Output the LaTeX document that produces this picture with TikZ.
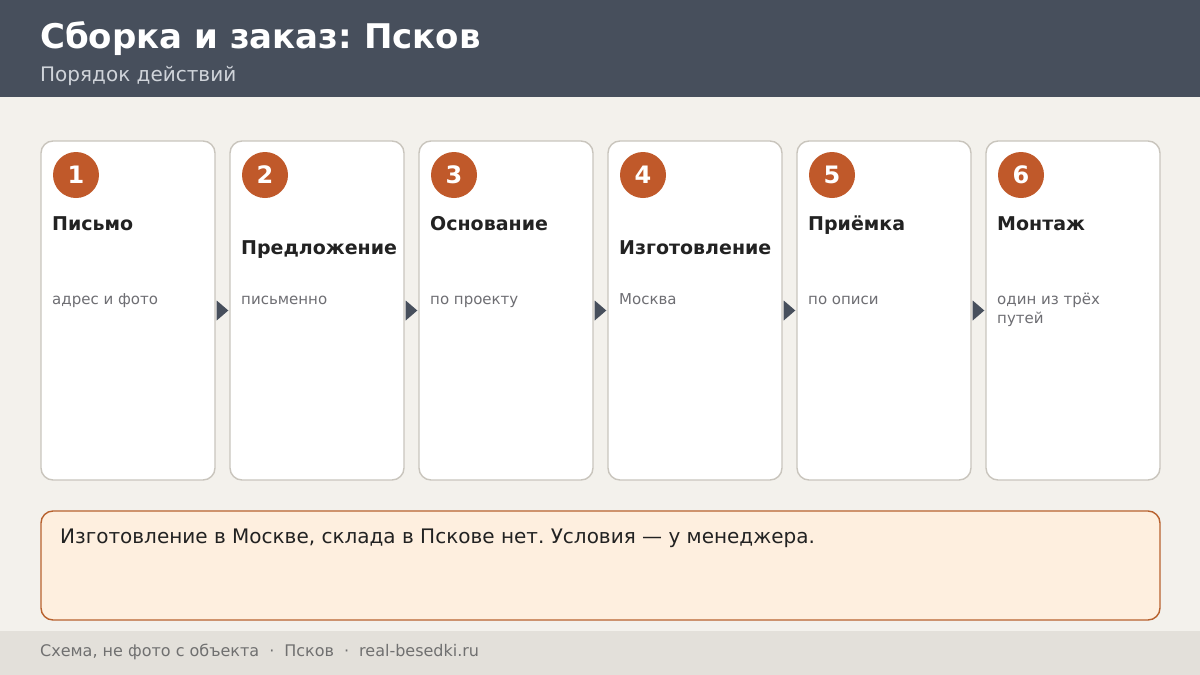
\documentclass[tikz,border=0pt]{standalone}
\usepackage{fontspec}
\setmainfont{DejaVu Sans}
\usetikzlibrary{shapes, arrows}
\frenchspacing

\definecolor{headbg}{HTML}{474F5C}
\definecolor{pagebg}{HTML}{F3F1EC}
\definecolor{footbg}{HTML}{E3E0DA}
\definecolor{cardline}{HTML}{C9C5BD}
\definecolor{badge}{HTML}{C0592A}
\definecolor{notebg}{HTML}{FEEFDF}
\definecolor{noteline}{HTML}{B8622F}
\definecolor{darktext}{HTML}{222222}
\definecolor{greytext}{HTML}{6E6E73}
\definecolor{subtext}{HTML}{D0D4DA}
\definecolor{foottext}{HTML}{707070}

\begin{document}
\begin{tikzpicture}[x=1pt, y=-1pt]

\tikzstyle{card} = [rectangle, draw=cardline, line width=1.4pt, fill=white, rounded corners=12pt, minimum width=174pt, minimum height=339pt, inner sep=0pt]
\tikzstyle{badge} = [circle, fill=badge, minimum size=46pt, inner sep=0pt, text=white, font=\fontsize{24}{28}\selectfont\bfseries]
\tikzstyle{steptitle} = [anchor=base west, inner sep=0pt, text=darktext, font=\fontsize{19}{23}\selectfont\bfseries]
\tikzstyle{stepnote} = [anchor=base west, inner sep=0pt, text=greytext, align=left, font=\fontsize{15}{19}\selectfont]
\tikzstyle{arrowhd} = [fill=headbg]

% background, header and footer
\fill[pagebg] (0,0) rectangle (1200,675);
\fill[headbg] (0,0) rectangle (1200,97);
\fill[footbg] (0,631) rectangle (1200,675);
\useasboundingbox (0,0) rectangle (1200,675);

\node at (40,48) [anchor=base west, inner sep=0pt, text=white, font=\fontsize{34}{40}\selectfont\bfseries] (title) {Сборка и заказ: Псков};
\node at (40,81) [anchor=base west, inner sep=0pt, text=subtext, font=\fontsize{20}{24}\selectfont] (subtitle) {Порядок действий};

% cards
\node at (128,310.5) [card] (c1) {};
\node at (317,310.5) [card] (c2) {};
\node at (506,310.5) [card] (c3) {};
\node at (695,310.5) [card] (c4) {};
\node at (884,310.5) [card] (c5) {};
\node at (1073,310.5) [card] (c6) {};

\node at (76,175) [badge] (b1) {1};
\node at (265,175) [badge] (b2) {2};
\node at (454,175) [badge] (b3) {3};
\node at (643,175) [badge] (b4) {4};
\node at (832,175) [badge] (b5) {5};
\node at (1021,175) [badge] (b6) {6};

\node at (52,230) [steptitle] (t1) {Письмо};
\node at (241,254) [steptitle] (t2) {Предложение};
\node at (430,230) [steptitle] (t3) {Основание};
\node at (619,254) [steptitle] (t4) {Изготовление};
\node at (808,230) [steptitle] (t5) {Приёмка};
\node at (997,230) [steptitle] (t6) {Монтаж};

\node at (52,304) [stepnote] (d1) {адрес и фото};
\node at (241,304) [stepnote] (d2) {письменно};
\node at (430,304) [stepnote] (d3) {по проекту};
\node at (619,304) [stepnote] (d4) {Москва};
\node at (808,304) [stepnote] (d5) {по описи};
\node at (997,323) [stepnote] (d6) {один из трёх\\путей};

% arrows between cards
\fill[arrowhd] ([xshift=1pt,yshift=-10pt]c1.east) -- ([xshift=-1pt]c2.west) -- ([xshift=1pt,yshift=10pt]c1.east) -- cycle;
\fill[arrowhd] ([xshift=1pt,yshift=-10pt]c2.east) -- ([xshift=-1pt]c3.west) -- ([xshift=1pt,yshift=10pt]c2.east) -- cycle;
\fill[arrowhd] ([xshift=1pt,yshift=-10pt]c3.east) -- ([xshift=-1pt]c4.west) -- ([xshift=1pt,yshift=10pt]c3.east) -- cycle;
\fill[arrowhd] ([xshift=1pt,yshift=-10pt]c4.east) -- ([xshift=-1pt]c5.west) -- ([xshift=1pt,yshift=10pt]c4.east) -- cycle;
\fill[arrowhd] ([xshift=1pt,yshift=-10pt]c5.east) -- ([xshift=-1pt]c6.west) -- ([xshift=1pt,yshift=10pt]c5.east) -- cycle;

% note
\node at (600.5,565.5) [rectangle, draw=noteline, line width=1.4pt, fill=notebg, rounded corners=12pt, minimum width=1119pt, minimum height=109pt] (note) {};
\node at (60,543) [anchor=base west, inner sep=0pt, text=darktext, font=\fontsize{20}{24}\selectfont] (notetext) {Изготовление в Москве, склада в Пскове нет. Условия — у менеджера.};

\node at (40,656) [anchor=base west, inner sep=0pt, text=foottext, font=\fontsize{16}{19}\selectfont] (footer) {Схема, не фото с объекта\hspace{10pt}·\hspace{10pt}Псков\hspace{10pt}·\hspace{10pt}real-besedki.ru};

\end{tikzpicture}
\end{document}
